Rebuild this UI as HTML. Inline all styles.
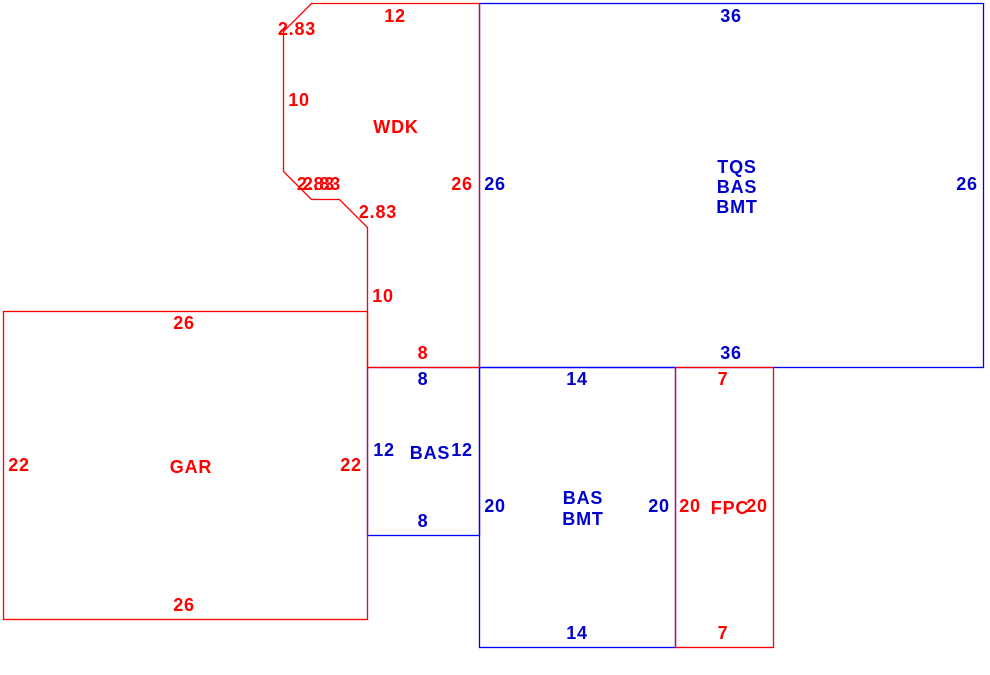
<!DOCTYPE html>
<html><head><meta charset="utf-8"><style>
html,body{margin:0;padding:0;background:#fff;width:990px;height:675px;overflow:hidden}
text{font-family:"Liberation Sans",Arial,sans-serif;font-weight:bold;font-size:18px;letter-spacing:0.8px;text-anchor:middle;dominant-baseline:central}
.r{fill:#f00}.b{fill:#00c}
</style></head><body>
<svg width="990" height="675" viewBox="0 0 990 675" xmlns="http://www.w3.org/2000/svg">
<rect x="479.5" y="3.5" width="504" height="364" style="fill:none;stroke:#0000ff;stroke-width:1.3"/>
<rect x="367.5" y="367.5" width="112" height="168" style="fill:none;stroke:#0000ff;stroke-width:1.3"/>
<rect x="479.5" y="367.5" width="196" height="280" style="fill:none;stroke:#0000ff;stroke-width:1.3"/>
<rect x="675.5" y="367.5" width="98" height="280" style="fill:none;stroke:#ff0000;stroke-width:1.3"/>
<rect x="3.5" y="311.5" width="364" height="308" style="fill:none;stroke:#ff0000;stroke-width:1.3"/>
<polygon points="311.5,3.5 479.5,3.5 479.5,367.5 367.5,367.5 367.5,227.5 339.5,199.5 311.5,199.5 283.5,171.5 283.5,31.5" style="fill:none;stroke:#ff0000;stroke-width:1.3"/>
<text x="395" y="16" class="r">12</text>
<text x="297" y="29" class="r">2.83</text>
<text x="299" y="100" class="r">10</text>
<text x="396" y="127" class="r">WDK</text>
<text x="316" y="184" class="r">2.83</text>
<text x="322" y="184" class="r">2.83</text>
<text x="378" y="212" class="r">2.83</text>
<text x="462" y="184" class="r">26</text>
<text x="383" y="296" class="r">10</text>
<text x="423" y="353" class="r">8</text>
<text x="184" y="323" class="r">26</text>
<text x="19" y="465" class="r">22</text>
<text x="191" y="467" class="r">GAR</text>
<text x="351" y="465" class="r">22</text>
<text x="184" y="605" class="r">26</text>
<text x="723" y="379" class="r">7</text>
<text x="690" y="506" class="r">20</text>
<text x="730" y="508" class="r">FPC</text>
<text x="757" y="506" class="r">20</text>
<text x="723" y="633" class="r">7</text>
<text x="495" y="184" class="b">26</text>
<text x="731" y="16" class="b">36</text>
<text x="737" y="167" class="b">TQS</text>
<text x="737" y="187" class="b">BAS</text>
<text x="737" y="207" class="b">BMT</text>
<text x="967" y="184" class="b">26</text>
<text x="731" y="353" class="b">36</text>
<text x="423" y="379" class="b">8</text>
<text x="384" y="450" class="b">12</text>
<text x="430" y="453" class="b">BAS</text>
<text x="462" y="450" class="b">12</text>
<text x="423" y="521" class="b">8</text>
<text x="577" y="379" class="b">14</text>
<text x="495" y="506" class="b">20</text>
<text x="583" y="498" class="b">BAS</text>
<text x="583" y="519" class="b">BMT</text>
<text x="659" y="506" class="b">20</text>
<text x="577" y="633" class="b">14</text>
</svg>
</body></html>
